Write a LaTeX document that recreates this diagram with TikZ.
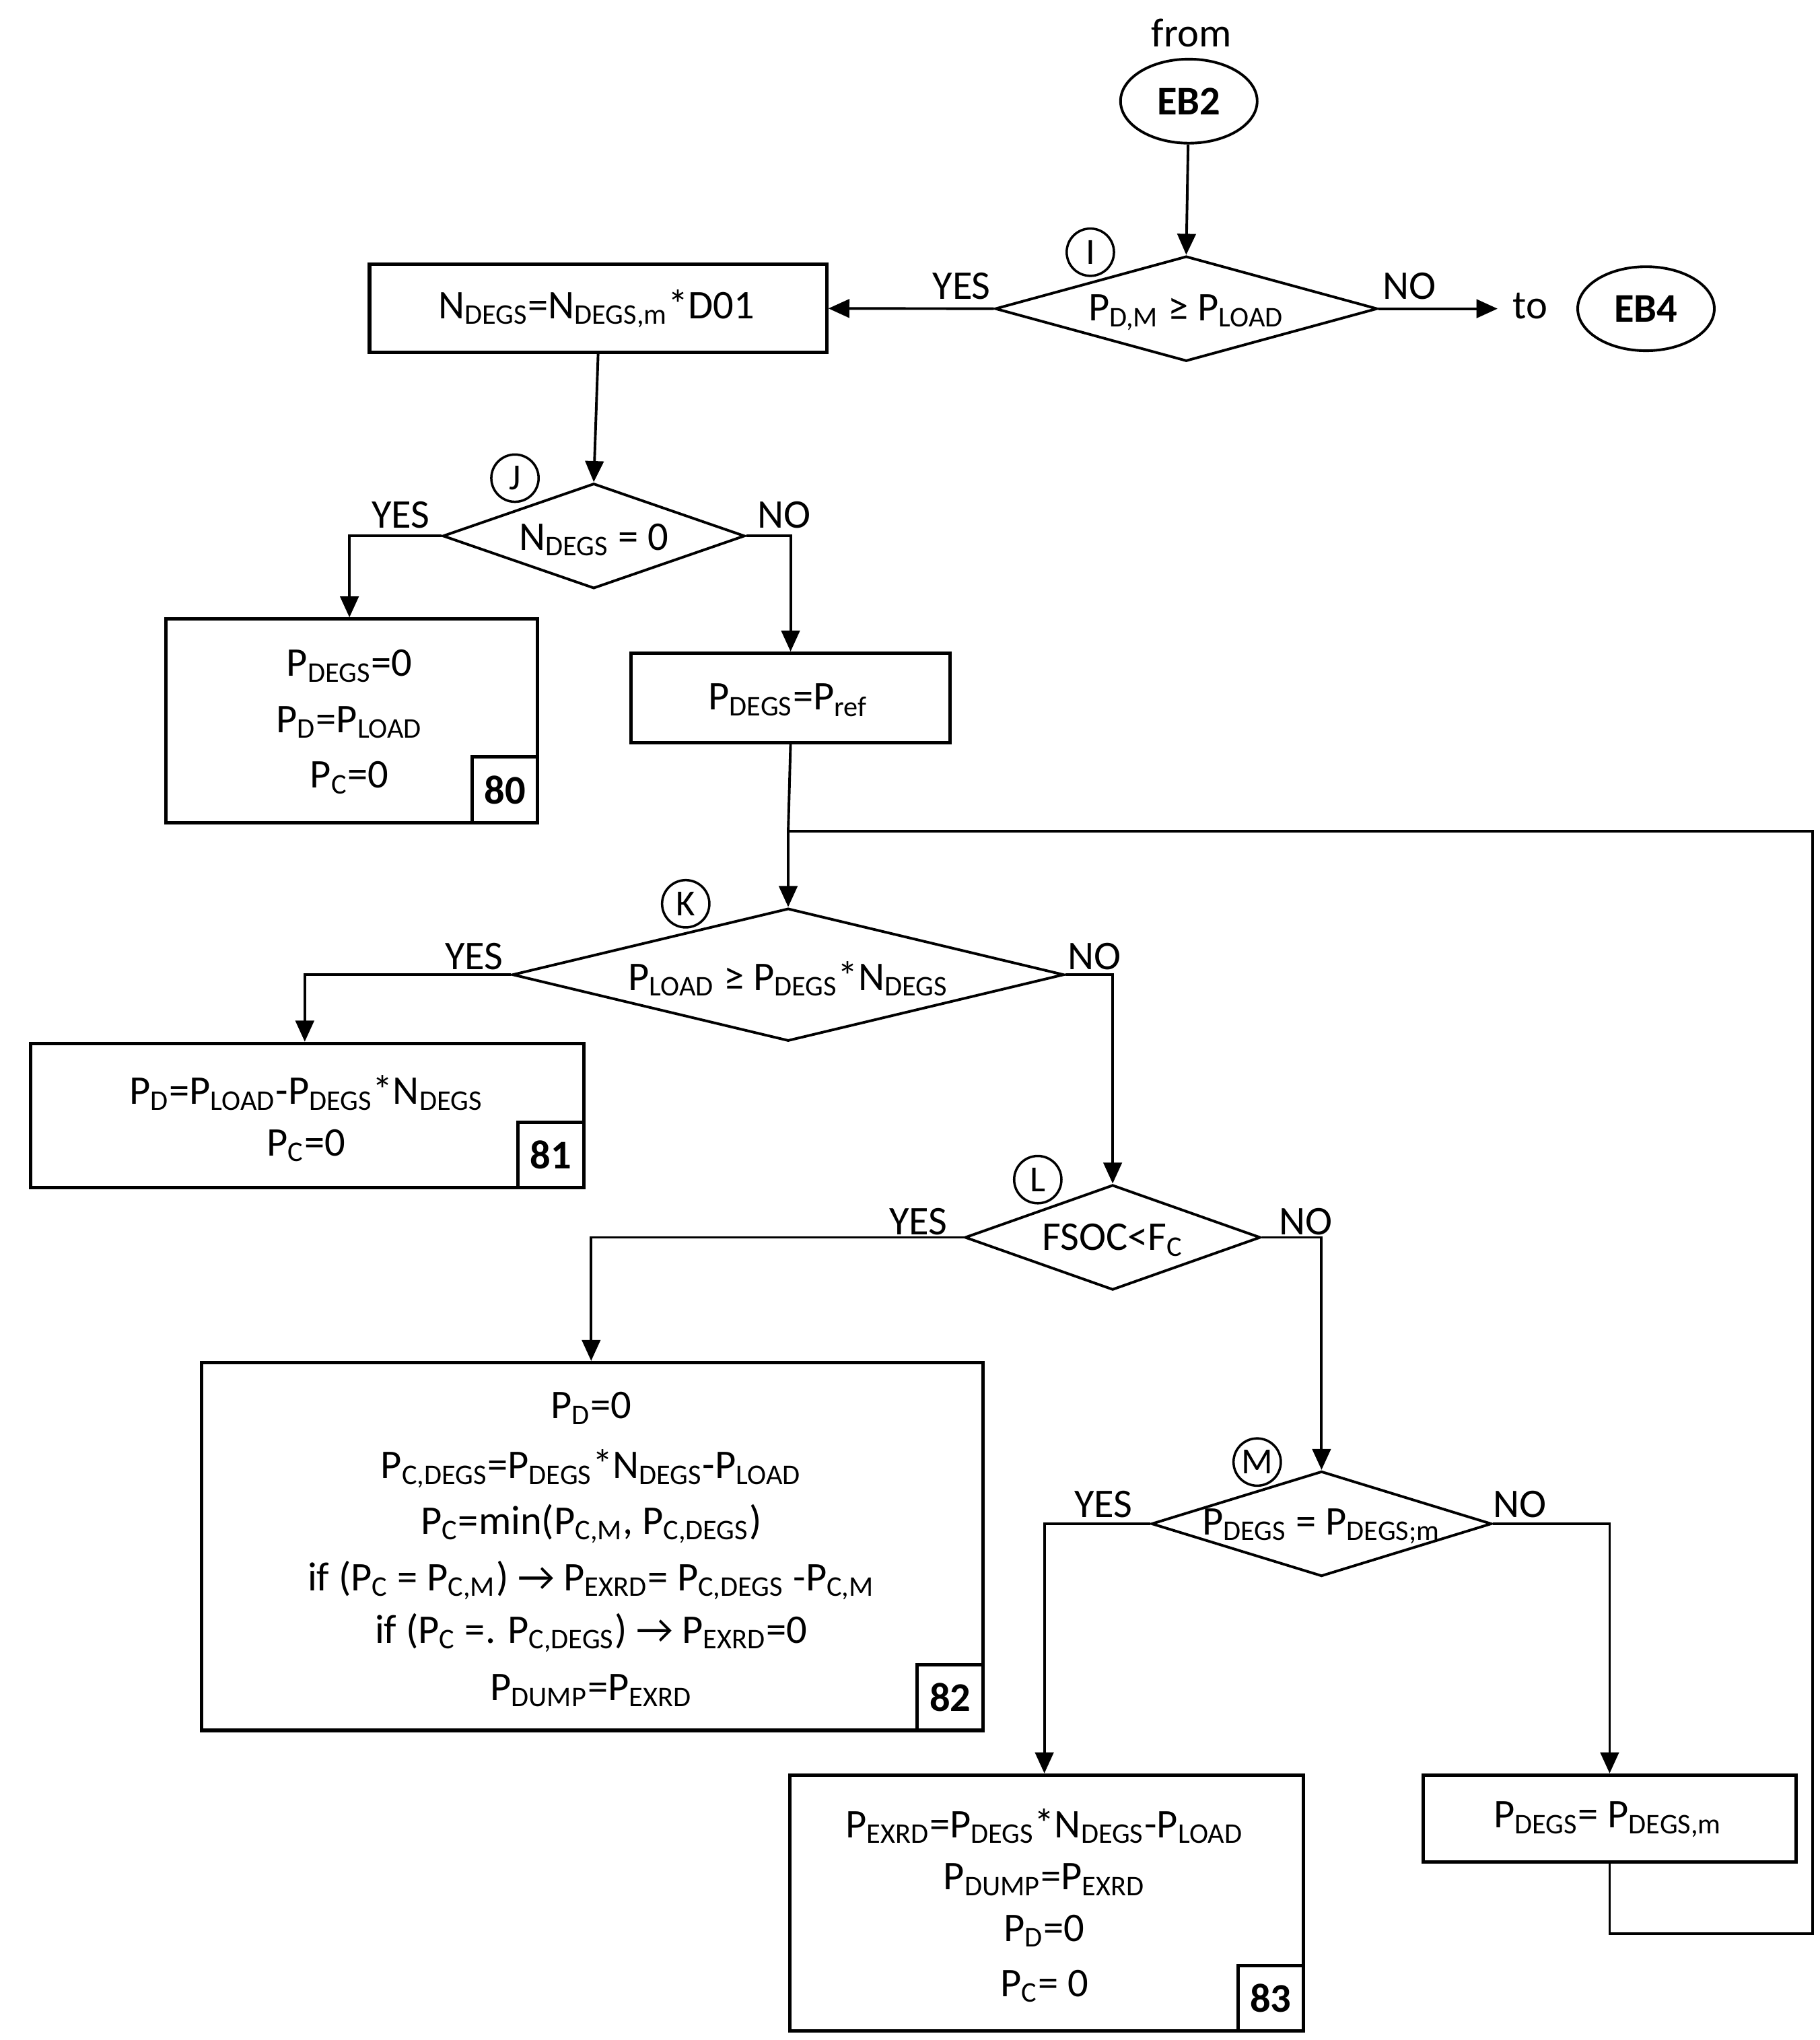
\documentclass[tikz,border=0pt]{standalone}
\usepackage{fontspec}
\setmainfont{Carlito}
\usetikzlibrary{shapes.geometric,arrows.meta}
\newcommand\sbs[1]{\textsubscript{#1}}
\begin{document}
\begin{tikzpicture}[x=0.5pt,y=-0.5pt,font=\fontsize{15.5}{18}\selectfont,
  box/.style={draw,line width=1.3pt,inner sep=0,anchor=north west},
  dia/.style={draw,diamond,line width=1pt,inner sep=0},
  lab/.style={draw,line width=1.3pt,inner sep=0,minimum width=25pt,minimum height=25pt,font=\fontsize{15.5}{18}\selectfont\bfseries,anchor=south east},
  cir/.style={draw,circle,line width=0.9pt,inner sep=0,minimum size=18pt,font=\fontsize{14}{16}\selectfont},
  ell/.style={draw,ellipse,line width=1pt,inner sep=0,minimum width=52pt,minimum height=32pt,font=\fontsize{15.5}{18}\selectfont\bfseries},
  ar/.style={line width=1pt,-{Triangle[length=8pt,width=7pt]}},
  ln/.style={line width=1pt}]
\useasboundingbox (0,0) rectangle (1385,1553);
% top
\node at (907,25) {from};
\node[ell] (eb2) at (905,77) {EB2};
\node[dia,minimum width=145.5pt,minimum height=40pt] (I) at (903,235) {};
\node at (903,238) {P\sbs{D,M} ≥ P\sbs{LOAD}};
\node[cir] (cI) at (830,192) {I};
\node[box,minimum width=174pt,minimum height=33.5pt] (nd) at (280,200) {};
\node at (454,235) {N\sbs{DEGS}=N\sbs{DEGS,m}*D01};
\node at (732,218) {YES};
\node at (1073,218) {NO};
\coordinate (toarr) at (1140,235);
\node at (1165,233) {to};
\node[ell] (eb4) at (1253,235) {EB4};
\draw[ar] (eb2) -- (I.north);
\draw[ar] (I.west) -- (nd.east);
\draw[ar] (I.east) -- (toarr);
% J
\node[dia,minimum width=115pt,minimum height=40pt] (J) at (452,408) {};
\node at (452,411) {N\sbs{DEGS} = 0};
\node[cir] (cJ) at (392,364) {J};
\draw[ar] (nd.south) -- (J.north);
\node at (305,392) {YES};
\node at (597,392) {NO};
\node[box,minimum width=141.5pt,minimum height=77.5pt] (b80) at (125,470) {};
\node at (266,507) {P\sbs{DEGS}=0};
\node at (266,550) {P\sbs{D}=P\sbs{LOAD}};
\node at (266,592) {P\sbs{C}=0};
\node[lab] (l80) at (b80.south east) {80};
\node[box,minimum width=121.5pt,minimum height=34pt] (pref) at (479,496) {};
\node at (600,533) {P\sbs{DEGS}=P\sbs{ref}};
\draw[ar] (J.west) -| (266,470);
\draw[ar] (J.east) -| (pref.north);
% K
\node[dia,minimum width=210pt,minimum height=50.5pt] (K) at (600,742) {};
\node at (600,745) {P\sbs{LOAD} ≥ P\sbs{DEGS}*N\sbs{DEGS}};
\node[cir] (cK) at (522,688) {K};
\coordinate (join) at (600,633);
\draw[ln] (pref.south) -- (join);
\draw[ar] (join) -- (K.north);
\node at (361,728) {YES};
\node at (833,728) {NO};
\node[box,minimum width=210.5pt,minimum height=55pt] (b81) at (22,793) {};
\node at (233,832) {P\sbs{D}=P\sbs{LOAD}-P\sbs{DEGS}*N\sbs{DEGS}};
\node at (233,872) {P\sbs{C}=0};
\node[lab] (l81) at (b81.south east) {81};
\draw[ar] (K.west) -| (232,793);
% L
\node[dia,minimum width=112.5pt,minimum height=40pt] (L) at (847,942) {};
\node at (847,944) {FSOC<F\sbs{C}};
\node[cir] (cL) at (790,898) {L};
\draw[ar] (K.east) -| (L.north);
\node at (699,930) {YES};
\node at (994,930) {NO};
\node[box,minimum width=297.5pt,minimum height=140pt] (b82) at (152,1036) {};
\node at (450,1072) {P\sbs{D}=0};
\node at (450,1118) {P\sbs{C,DEGS}=P\sbs{DEGS}*N\sbs{DEGS}-P\sbs{LOAD}};
\node at (450,1160) {P\sbs{C}=min(P\sbs{C,M}, P\sbs{C,DEGS})};
\node at (450,1203) {if (P\sbs{C} = P\sbs{C,M}) → P\sbs{EXRD}= P\sbs{C,DEGS} -P\sbs{C,M}};
\node at (450,1243) {if (P\sbs{C} =. P\sbs{C,DEGS}) → P\sbs{EXRD}=0};
\node at (450,1287) {P\sbs{DUMP}=P\sbs{EXRD}};
\node[lab] (l82) at (b82.south east) {82};
\draw[ar] (L.west) -| (450,1036);
% M
\node[dia,minimum width=129.5pt,minimum height=40pt] (M) at (1006,1160) {};
\node at (1006,1162) {P\sbs{DEGS} = P\sbs{DEGS;m}};
\node[cir] (cM) at (957,1113) {M};
\draw[ar] (L.east) -| (M.north);
\node at (840,1145) {YES};
\node at (1157,1145) {NO};
\node[box,minimum width=195.5pt,minimum height=97.5pt] (b83) at (600,1350) {};
\node at (795,1390) {P\sbs{EXRD}=P\sbs{DEGS}*N\sbs{DEGS}-P\sbs{LOAD}};
\node at (795,1431) {P\sbs{DUMP}=P\sbs{EXRD}};
\node at (795,1470) {P\sbs{D}=0};
\node at (795,1512) {P\sbs{C}= 0};
\node[lab] (l83) at (b83.south east) {83};
\node[box,minimum width=142pt,minimum height=33pt] (pd) at (1082,1350) {};
\node at (1224,1385) {P\sbs{DEGS}= P\sbs{DEGS,m}};
\draw[ar] (M.west) -| (795,1350);
\draw[ar] (M.east) -| (pd.north);
\draw[ln] (pd.south) |- (1380,1472) |- (join);
\end{tikzpicture}
\end{document}
